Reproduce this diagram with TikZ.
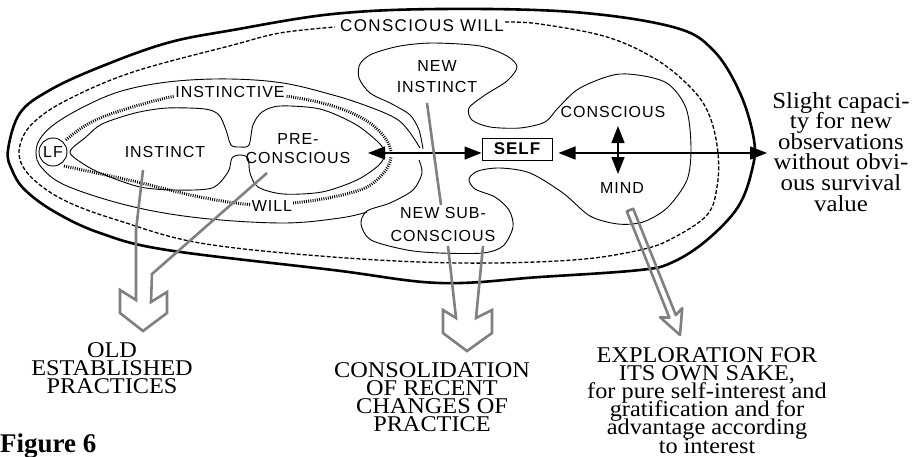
\documentclass[tikz,border=0pt]{standalone}
\usepackage{fontspec}
\setmainfont{Liberation Serif}
\newfontfamily\notefont{Liberation Serif}[FakeStretch=1.08]
\newfontfamily\labfont{Liberation Sans}[LetterSpace=6]
\newfontfamily\labwide{Liberation Sans}[LetterSpace=8]
\usetikzlibrary{arrows.meta}
\definecolor{arrowgray}{RGB}{128,128,128}
\AtBeginDocument{\setlength{\lineskiplimit}{-100pt}}
\begin{document}
\begin{tikzpicture}[x=1pt,y=-1pt,
  outerline/.style={line width=2.6pt, line join=round},
  willline/.style={line width=1.3pt, dash pattern=on 4pt off 2pt},
  thinline/.style={line width=0.9pt},
  wavy/.style={line width=3pt, dash pattern=on 0.9pt off 1.3pt},
  grayarrow/.style={draw=arrowgray, line width=2.6pt, line join=miter},
  lab/.style={font=\labfont\fontsize{16}{20}\selectfont, inner sep=1pt, align=center},
  note/.style={font=\notefont\fontsize{22.5}{18.2}\selectfont, align=center, inner sep=0pt, anchor=north},
  blackarrow/.style={line width=1.4pt, {Triangle[length=17pt,width=13pt]}-{Triangle[length=17pt,width=13pt]}}
]
\useasboundingbox (0,0) rectangle (916,456);

% outer thick egg
\draw[outerline] plot[smooth cycle, tension=0.6] coordinates {(8,150) (20,113) (50,90) (100,67) (167,43) (233,30) (333,14) (440,9) (573,12) (673,27) (713,50) (740,93) (754,140) (752,170) (738,207) (707,240) (673,262) (640,270) (540,277) (440,283) (333,270) (167,250) (100,233) (55,212) (25,190) (12,170)};

% conscious will dashed
\draw[willline] plot[smooth, tension=0.6] coordinates {(505,22) (540,24) (607,37) (657,60) (693,90) (710,117) (718,153) (717,187) (707,215) (673,238) (640,250) (573,260) (460,263) (333,257) (200,243) (117,220) (70,203) (40,185) (22,165) (20,145) (33,123) (67,100) (133,72) (233,45) (280,33) (335,27)};

% outer thin loop of instinctive will
\draw[thinline] plot[smooth, tension=0.6] coordinates {(420,148) (408,130) (395,118) (367,106) (333,95) (283,83) (230,79) (177,81) (133,88) (100,99) (62,119) (42,136) (36,152) (42,168) (67,186) (130,206) (200,218) (283,223) (340,218) (367,212)};

% wavy instinctive will
\draw[wavy] plot[smooth, tension=0.6] coordinates {(66,140) (100,118) (175,96) (230,92) (285,96) (333,106) (367,121) (386,139) (391,152)};
\draw[wavy] plot[smooth, tension=0.6] coordinates {(64,166) (133,181) (200,197) (255,205) (293,203) (333,197) (367,187) (386,170) (391,157)};

% instinct + preconscious blob
\draw[thinline] plot[smooth cycle, tension=0.5] coordinates {(70,152) (86,137) (102,124) (135,113) (167,108) (205,109) (219,115) (226,130) (231,145) (240,147) (249,145) (253,125) (262,112) (280,106) (320,109) (355,124) (378,142) (385,153) (379,165) (357,180) (322,192) (283,194) (258,187) (250,173) (248,158) (240,155) (232,158) (228,172) (212,188) (175,190) (140,187) (105,175) (85,165)};

% LF circle
\node[draw, thinline, fill=white, circle, minimum size=28pt, inner sep=0pt, font=\labfont\fontsize{16}{20}\selectfont] (lf) at (53,152) {LF};

% conscious region outline (new instinct, conscious mind, new subconscious)
\draw[thinline] plot[smooth, tension=0.5] coordinates {(423,149) (419,130) (410,115) (392,104) (370,93) (359,78) (360,64) (372,54) (400,46) (433,43) (480,46) (507,56) (517,67) (507,81) (485,95) (469,108) (472,120) (490,127) (520,128) (545,122) (558,108) (580,88) (620,74) (665,82) (686,108) (691,147) (687,180) (667,208) (643,222) (618,224) (590,216) (563,193) (530,173) (500,168) (478,171) (469,179) (475,189) (495,197) (509,210) (513,227) (503,246) (483,253) (440,253) (407,250) (371,240) (361,224) (367,211) (390,203) (413,190) (422,173) (419,160)};

% labels
\node[lab, font=\labwide\fontsize{17}{20}\selectfont, fill=white] (cwill) at (422,26) {CONSCIOUS WILL};
\node[lab, fill=white] (instv) at (230,92) {INSTINCTIVE};
\node[lab, fill=white] (will) at (272,206) {WILL};
\node[lab] (inst) at (165,152) {INSTINCT};
\node[lab, font=\labfont\fontsize{16}{19}\selectfont] (precon) at (298,149) {PRE-\\CONSCIOUS};
\node[lab, font=\labfont\fontsize{16}{21}\selectfont] (newinst) at (437,77) {NEW\\INSTINCT};
\node[lab, font=\labfont\fontsize{16}{23}\selectfont] (newsub) at (443,224) {NEW SUB-\\CONSCIOUS};
\node[lab] (conmind) at (613,112) {CONSCIOUS};
\node[lab] (mind) at (622,188) {MIND};
\node[draw, line width=1pt, minimum width=70pt, minimum height=22pt, inner sep=0pt,
      font=\labfont\bfseries\fontsize{17}{20}\selectfont] (self) at (517,149) {SELF};

% black arrows
\coordinate (pctip) at (368,153);
\coordinate (rightend) at (767,153);
\coordinate (vtop) at (618,126);
\coordinate (vbot) at (618,174);
\draw[blackarrow] (pctip) -- (self.west |- pctip);
\draw[blackarrow] ([xshift=6pt]self.east |- rightend) -- (rightend);
\draw[blackarrow] (vtop) -- (vbot);

% gray arrows
\coordinate (niA) at (427,103);
\coordinate (niB) at (441,205);
\draw[grayarrow] (niA) -- (niB);
\coordinate (instS) at (143,170);
\coordinate (preS) at (267,173);
\draw[grayarrow] (instS) -- (136,230) -- (136,300) -- (120,290) -- (120,313) -- (143,331) -- (167,313) -- (167,292) -- (151,302) -- (152,274) -- (preS);
\coordinate (subL) at (448,246);
\coordinate (subR) at (483,246);
\draw[grayarrow] (subL) -- (456,318) -- (443,310) -- (443,333) -- (467,351) -- (492,333) -- (492,310) -- (476,318) -- (subR);
\coordinate (mindS) at (630,210);
\draw[grayarrow, line join=round] (626.8,211.3) -- (669.4,317.7) -- (660.0,317.2) -- (680,335) -- (682.2,308.2) -- (675.8,315.1) -- (633.2,208.7) -- cycle;

% serif notes
\node[note] (old) at (112,342) {OLD\\ESTABLISHED\\PRACTICES};
\node[note] (consol) at (432,362) {CONSOLIDATION\\OF RECENT\\CHANGES OF\\PRACTICE};
\node[note] (explor) at (707,347) {EXPLORATION FOR\\ITS OWN SAKE,\\for pure self-interest and\\gratification and for\\advantage according\\to interest};
\node[note, font=\notefont\fontsize{23}{20.6}\selectfont] (slight) at (841,92) {Slight capaci-\\ty for new\\observations\\without obvi-\\ous survival\\value};
\node[anchor=base west, inner sep=0pt, font=\bfseries\fontsize{27}{30}\selectfont] (fig) at (0,452) {Figure 6};
\end{tikzpicture}
\end{document}
